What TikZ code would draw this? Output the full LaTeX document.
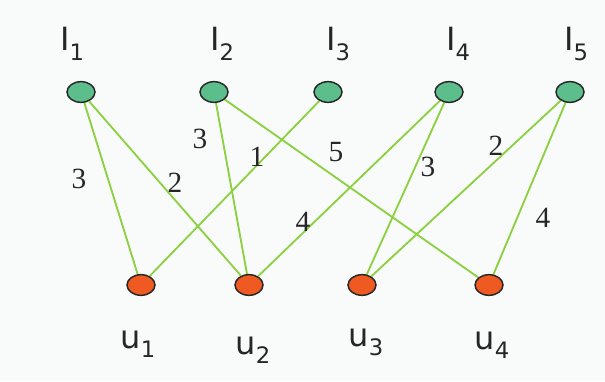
\documentclass[tikz,border=0pt]{standalone}
\usepackage{fontspec}
\setmainfont{DejaVu Sans}
\newfontfamily\weightfont{Liberation Serif}
\usetikzlibrary{shapes.geometric,backgrounds}
\definecolor{leaf}{HTML}{5CBF8B}
\definecolor{ember}{HTML}{EF5A23}
\definecolor{stem}{HTML}{8DD143}
\definecolor{ink}{HTML}{262626}
\definecolor{paper}{HTML}{F9FBFB}
\newcommand{\lowsub}[1]{\raisebox{-7pt}{\fontsize{17}{17}\selectfont #1}}

\begin{document}
\begin{tikzpicture}[x=0.75pt, y=-0.75pt,
  item/.style={ellipse, draw=ink, line width=1.1pt, fill=leaf, minimum width=21pt, minimum height=15.5pt, inner sep=0pt},
  user/.style={item, fill=ember},
  tag/.style={anchor=base, inner sep=0pt, text=ink, font=\fontsize{24}{24}\selectfont},
  wt/.style={inner sep=0pt, text=ink, font=\weightfont\fontsize{22}{22}\selectfont},
  link/.style={stem, line width=1.4pt}
]
  \useasboundingbox (0,0) rectangle (605,381);

  \node[item] (i1) at (81,92) {};
  \node[item] (i2) at (214,92) {};
  \node[item] (i3) at (328,92) {};
  \node[item] (i4) at (449,92) {};
  \node[item] (i5) at (570,92) {};

  \node[user] (u1) at (141,285) {};
  \node[user] (u2) at (249,285) {};
  \node[user] (u3) at (362,285) {};
  \node[user] (u4) at (489,285) {};

  \node[tag] (li1) at (72,51) {I\lowsub{1}};
  \node[tag] (li2) at (222,51) {I\lowsub{2}};
  \node[tag] (li3) at (338,51) {I\lowsub{3}};
  \node[tag] (li4) at (458,51) {I\lowsub{4}};
  \node[tag] (li5) at (576,51) {I\lowsub{5}};

  \node[tag] (lu1) at (138,348) {u\lowsub{1}};
  \node[tag] (lu2) at (253,354) {u\lowsub{2}};
  \node[tag] (lu3) at (366,346) {u\lowsub{3}};
  \node[tag] (lu4) at (492,349) {u\lowsub{4}};

  \begin{scope}[on background layer]
    \fill[paper] (0,0) rectangle (605,381);
    \draw[link] (i1) -- (u1);
    \draw[link] (i1) -- (u2);
    \draw[link] (i2) -- (u2);
    \draw[link] (i2) -- (u4);
    \draw[link] (i3) -- (u1);
    \draw[link] (i4) -- (u2);
    \draw[link] (i4) -- (u3);
    \draw[link] (i5) -- (u3);
    \draw[link] (i5) -- (u4);
  \end{scope}

  \node[wt] (w11) at (79,179) {3};
  \node[wt] (w12) at (175,183) {2};
  \node[wt] (w22) at (200,139) {3};
  \node[wt] (w31) at (257,157) {1};
  \node[wt] (w24) at (336,152) {5};
  \node[wt] (w42) at (303,222) {4};
  \node[wt] (w43) at (428,167) {3};
  \node[wt] (w53) at (496,146) {2};
  \node[wt] (w54) at (543,218) {4};
\end{tikzpicture}
\end{document}
